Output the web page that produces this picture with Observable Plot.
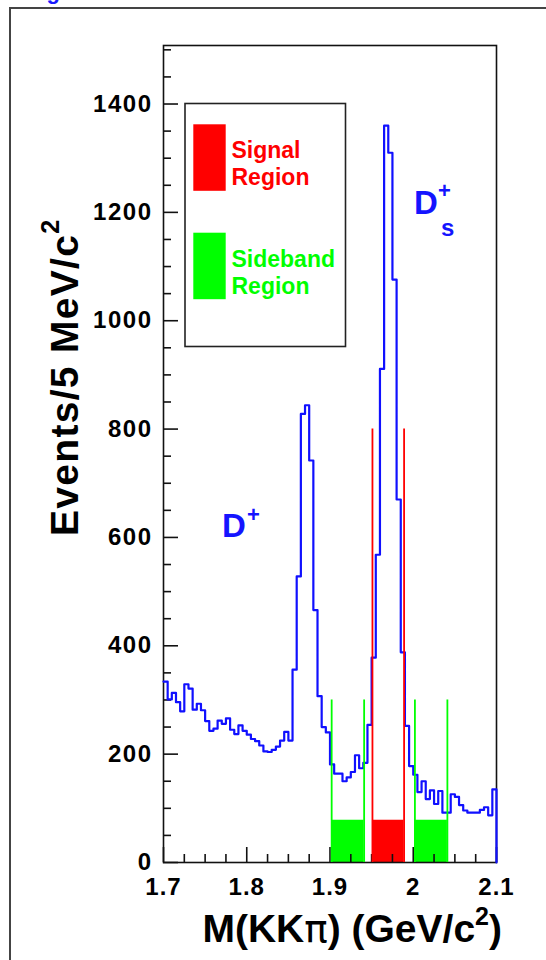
<!DOCTYPE html>
<html><head><meta charset="utf-8">
<script src="https://cdn.jsdelivr.net/npm/d3@7"></script>
<script src="https://cdn.jsdelivr.net/npm/@observablehq/plot@0.6"></script>
<style>
html,body{margin:0;padding:0;background:#fff;}
#chart{position:relative;width:546px;height:960px;overflow:hidden;background:#fff;}
#chart svg{display:block;overflow:visible;}
#chart g[aria-label="y-axis tick label"] text{letter-spacing:1.5px;}
#chart g[aria-label="x-axis tick label"] text{letter-spacing:1px;}
</style></head><body><div id="chart"></div>
<script>
// ---- data ----
// bin low edges (5 MeV bins from 1.70 to 2.10 GeV)
const binLow = d3.range(80).map(i => +(1.7 + i * 0.005).toFixed(3));
// events per bin
const counts = [
  334, 301, 313, 296, 279, 329, 321, 282, 293, 281,
  261, 243, 247, 262, 256, 266, 245, 237, 253, 243,
  236, 228, 224, 216, 205, 204, 208, 214, 225, 241,
  225, 356, 528, 828, 844, 742, 466, 307, 250, 240,
  181, 164, 164, 150, 157, 167, 198, 174, 184, 254,
  378, 568, 911, 1360, 1310, 1076, 670, 388, 252, 178,
  162, 130, 150, 117, 133, 108, 132, 92, 92, 126,
  121, 106, 96, 92, 92, 92, 97, 102, 87, 135
];
const histEnd = 2.1;

// mass windows
const regionNames = ["Sideband", "Signal", "Sideband"];
const regionLow   = [1.902, 1.951, 2.002];
const regionHigh  = [1.941, 1.989, 2.041];
const regionFill  = [78, 78, 78];
const regionLine  = [300, 800, 300];

// axes
const xTicks = [1.7, 1.8, 1.9, 2.0, 2.1];
const xTickLabels = ["1.7", "1.8", "1.9", "2", "2.1"];
const xMinor = [1.725,1.75,1.775,1.825,1.85,1.875,1.925,1.95,1.975,2.025,2.05,2.075];
const yTicks = [0, 200, 400, 600, 800, 1000, 1200, 1400];
const yTickLabels = ["0","200","400","600","800","1000","1200","1400"];
const yMinor = [50,100,150,250,300,350,450,500,550,650,700,750,850,900,950,1050,1100,1150,1250,1300,1350,1450,1500];

const legendLabels = [["Signal", "Region"], ["Sideband", "Region"]];
const xTitle = ["M(KK", "\u03c0", ") (GeV/c", "2", ")"];
const yTitle = ["Events/5 MeV/c", "2"];

// ---- tables ----
const hist = binLow.map((x, i) => ({x, y: counts[i]}));
hist.push({x: histEnd, y: counts[counts.length - 1]}, {x: histEnd, y: 0});
const regions = regionNames.map((name, i) => ({name, x1: regionLow[i], x2: regionHigh[i], top: regionFill[i], line: regionLine[i]}));
const edges = regions.flatMap(r => [{name: r.name, x: r.x1, top: r.line}, {name: r.name, x: r.x2, top: r.line}]);
const xLab = new Map(xTicks.map((t, i) => [t, xTickLabels[i]]));
const yLab = new Map(yTicks.map((t, i) => [t, yTickLabels[i]]));

const FONT = "'Liberation Sans', Arial, Helvetica, sans-serif";
const frameW = 333, frameH = 817;

const chart = Plot.plot({
  width: 546, height: 960,
  marginLeft: 163, marginRight: 50, marginTop: 45, marginBottom: 98,
  x: {domain: [1.7, 2.1]},
  y: {domain: [0, 1508]},
  color: {domain: ["Signal", "Sideband"], range: ["#ff0000", "#00ff00"]},
  style: {fontFamily: FONT, fontWeight: "bold", background: "white", color: "black"},
  marks: [
    Plot.rectY(regions, {x1: "x1", x2: "x2", y1: 0, y2: "top", fill: "name"}),
    Plot.frame({stroke: "#111", strokeWidth: 1.6}),
    Plot.tickX(xTicks, {x: d => d, insetTop: frameH - 15, stroke: "#111", strokeWidth: 1.6}),
    Plot.tickX(xMinor, {x: d => d, insetTop: frameH - 8, stroke: "#111", strokeWidth: 1.6}),
    Plot.tickY(yTicks, {y: d => d, insetRight: frameW - 15, stroke: "#111", strokeWidth: 1.6}),
    Plot.tickY(yMinor, {y: d => d, insetRight: frameW - 8, stroke: "#111", strokeWidth: 1.6}),
    Plot.axisX(xTicks, {tickSize: 0, tickPadding: 15, tickFormat: d => xLab.get(d), fontSize: 24, fontWeight: "bold", label: null}),
    Plot.axisY(yTicks, {tickSize: 0, tickPadding: 11, tickFormat: d => yLab.get(d), fontSize: 24, fontWeight: "bold", label: null}),
    Plot.lineY(hist, {x: "x", y: "y", curve: "step-after", stroke: "#1010ff", strokeWidth: 2.2}),
    Plot.ruleX(edges, {x: "x", y1: 0, y2: "top", stroke: "name", strokeWidth: 1.8})
  ]
});
document.getElementById("chart").appendChild(chart);

// ---- decorations / titles ----
const svg = d3.select(chart);
// outer page frame
svg.append("path").attr("d", "M10,960V8H546").attr("fill", "none").attr("stroke", "#444").attr("stroke-width", 2);
// cut-off caption fragment at the top of the page (only the descender shows in the reference)
svg.append("text").attr("x", 27).attr("y", -1).attr("text-anchor", "start").attr("fill", "#1a1aff")
  .attr("font-family", FONT).attr("font-size", 22).text("Fig");

// legend
const leg = svg.append("g").attr("font-family", FONT).attr("font-weight", "bold").attr("font-size", 23).attr("text-anchor", "start");
leg.append("rect").attr("x", 185).attr("y", 103.5).attr("width", 160.5).attr("height", 243)
  .attr("fill", "white").attr("stroke", "#222").attr("stroke-width", 1.6);
const legColors = ["#ff0000", "#00ff00"];
const legTops = [124.3, 232.7];
legendLabels.forEach((lines, i) => {
  leg.append("rect").attr("x", 193.3).attr("y", legTops[i]).attr("width", 32.4).attr("height", 66.5).attr("fill", legColors[i]);
  lines.forEach((t, j) => {
    leg.append("text").attr("x", 231.5).attr("y", legTops[i] + 34 + j * 26.8).attr("fill", legColors[i]).text(t);
  });
});

// peak labels
const lab = svg.append("g").attr("font-family", FONT).attr("font-weight", "bold").attr("fill", "#1414ff").attr("text-anchor", "start");
lab.append("text").attr("x", 222).attr("y", 537).attr("font-size", 33).text("D");
lab.append("text").attr("x", 247).attr("y", 522).attr("font-size", 22).text("+");
lab.append("text").attr("x", 414).attr("y", 214).attr("font-size", 33).text("D");
lab.append("text").attr("x", 438).attr("y", 198).attr("font-size", 22).text("+");
lab.append("text").attr("x", 441).attr("y", 236).attr("font-size", 24).text("s");

// x title
const xt = svg.append("text").attr("x", 502).attr("y", 942).attr("text-anchor", "end")
  .attr("font-family", FONT).attr("font-weight", "bold").attr("font-size", 39).attr("fill", "black");
xt.append("tspan").text(xTitle[0]);
xt.append("tspan").attr("font-family", "'DejaVu Sans', sans-serif").attr("font-weight", "normal").text(xTitle[1]);
xt.append("tspan").text(xTitle[2]);
xt.append("tspan").attr("font-size", 25).attr("dy", -17).text(xTitle[3]);
xt.append("tspan").attr("dy", 17).text(xTitle[4]);

// y title
const yt = svg.append("text").attr("transform", "translate(78,536) rotate(-90)").attr("text-anchor", "start")
  .attr("font-family", FONT).attr("font-weight", "bold").attr("font-size", 39).attr("fill", "black")
  .attr("letter-spacing", "1.3px");
yt.append("tspan").text(yTitle[0]);
yt.append("tspan").attr("font-size", 25).attr("dy", -19).text(yTitle[1]);
</script></body></html>
